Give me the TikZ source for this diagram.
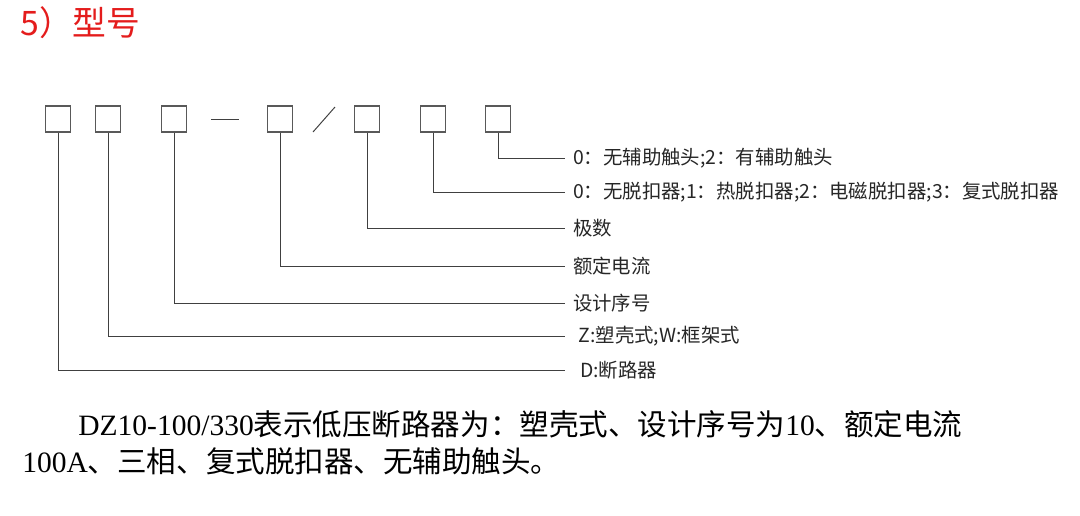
\documentclass[tikz,border=0pt]{standalone}
\usepackage{fontspec}
\setmainfont{Liberation Serif}
\newfontfamily\cjk{Noto Sans CJK SC}
\usetikzlibrary{positioning}
\definecolor{titlered}{RGB}{228,28,28}

\begin{document}
\begin{tikzpicture}[x=0.025cm,y=-0.025cm,
    digit/.style={draw=black!65,line width=0.8pt,minimum width=0.625cm,minimum height=0.65cm,inner sep=0pt},
    lead/.style={draw=black!75,line width=0.7pt},
    legend/.style={anchor=west,inner xsep=5.5pt,inner ysep=0pt,text=black!85,
      font=\cjk\fontsize{13.8}{16}\selectfont},
    para/.style={anchor=base west,inner sep=0pt,font=\fontsize{21}{25}\selectfont}]
  \useasboundingbox (0,0) rectangle (1080,515);
  % title
  \node[anchor=base west,inner sep=0pt,text=titlered,font=\cjk\fontsize{24}{28}\selectfont] (title) at (20,35) {5）型号};
  % the seven places of the type code
  \node[digit] (d1) at (58,119) {};
  \node[digit] (d2) at (108,119) {};
  \node[digit] (d3) at (174,119) {};
  \node[digit] (d4) at (280,119) {};
  \node[digit] (d5) at (367,119) {};
  \node[digit] (d6) at (433,119) {};
  \node[digit] (d7) at (498,119) {};
  \draw[lead] (211,119) -- (239,119);
  \draw[lead] (313,132) -- (335,107);
  % meanings
  \node[legend] (t7) at (565,158) {0：无辅助触头;2：有辅助触头};
  \node[legend] (t6) at (565,192) {0：无脱扣器;1：热脱扣器;2：电磁脱扣器;3：复式脱扣器};
  \node[legend] (t5) at (565,228) {极数};
  \node[legend] (t4) at (565,266) {额定电流};
  \node[legend] (t3) at (565,303) {设计序号};
  \node[legend] (t2) at (565,336) {\hspace{4pt}Z:塑壳式;W:框架式};
  \node[legend] (t1) at (565,370) {\hspace{5pt}D:断路器};
  \foreach \i in {1,...,7}
    \draw[lead] (d\i.south) |- (t\i.west);
  % example
  \node[para] (ex1) at (78,435) {DZ10-100/330{\cjk 表示低压断路器为：塑壳式、设计序号为}10{\cjk 、额定电流}};
  \node[para] (ex2) at (22,472) {100A{\cjk 、三相、复式脱扣器、无辅助触头。}};
\end{tikzpicture}
\end{document}
